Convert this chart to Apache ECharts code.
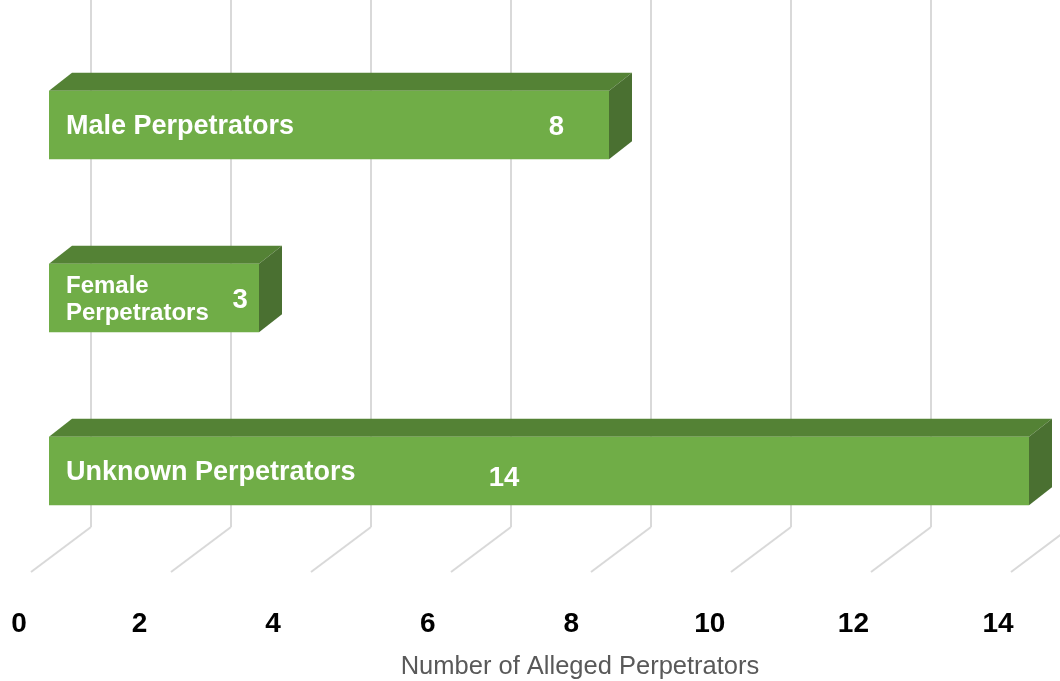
<!DOCTYPE html>
<html>
<head>
<meta charset="utf-8">
<style>
  html, body { margin: 0; padding: 0; background: #fff; }
  #chart { width: 1060px; height: 681px; }
</style>
<script src="https://cdn.jsdelivr.net/npm/echarts@6/dist/echarts.min.js"></script>
</head>
<body>
<div id="chart"></div>
<script>
const categories = ['Male Perpetrators', 'Female Perpetrators', 'Unknown Perpetrators'];
const counts = [8, 3, 14];
const tickValues = [0, 2, 4, 6, 8, 10, 12, 14];
const axisTitle = 'Number of Alleged Perpetrators';

// layout bits (where each value label sits, in axis units)
const labelSpot = [7.25, 2.73, 6.5];
const labelDy = [0, 0, 5];
// small nudges so the bottom numbers sit like the original
const tickShift = { 0: 0, 2: -19, 4: -25, 6: -10, 8: -6, 10: -7, 12: -3, 14: 2 };

const frontColor = '#70ad47';
const topColor = '#548235';
const sideColor = '#4a7031';
const gridColor = '#d9d9d9';
const fontFam = '"Liberation Sans", Arial, sans-serif';

// back wall runs past the right edge, so only show up to what fits (70px per unit)
const wallMax = 969 / 70;

const chart = echarts.init(document.getElementById('chart'));

const rich = {};
tickValues.forEach(v => {
  const d = tickShift[v];
  rich['t' + v] = {
    fontSize: 28,
    fontWeight: 'bold',
    fontFamily: fontFam,
    color: '#000',
    padding: [0, d < 0 ? -2 * d : 0, 0, d > 0 ? 2 * d : 0]
  };
});

const option = {
  backgroundColor: '#fff',
  animation: false,
  grid: [
    // back wall
    { left: 91, right: 0, top: 0, height: 527, outerBoundsMode: 'none' },
    // front plane of the bars
    { left: 49, width: 980, top: 38.5, height: 519, outerBoundsMode: 'none' },
    // tick labels row
    { left: 19, width: 977, top: 590, height: 10, outerBoundsMode: 'none' }
  ],
  xAxis: [
    {
      gridIndex: 0, type: 'value', min: 0, max: wallMax, interval: 2,
      axisLine: { show: false }, axisTick: { show: false }, axisLabel: { show: false },
      splitLine: { show: true, showMaxLine: false, lineStyle: { color: gridColor, width: 2 } },
      name: axisTitle,
      nameLocation: 'middle',
      nameGap: 127,
      nameTextStyle: {
        fontSize: 25.5, color: '#595959', fontFamily: fontFam,
        padding: [0, 0, 0, 9]
      }
    },
    {
      gridIndex: 1, type: 'value', min: 0, max: 14,
      show: false
    },
    {
      gridIndex: 2, type: 'value', min: 0, max: 14, interval: 2,
      axisLine: { show: false }, axisTick: { show: false },
      splitLine: { show: false },
      axisLabel: {
        margin: 10,
        formatter: v => '{t' + v + '|' + v + '}',
        rich: rich
      }
    }
  ],
  yAxis: [
    { gridIndex: 0, type: 'value', min: 0, max: 1, show: false },
    { gridIndex: 1, type: 'category', data: categories, inverse: true, show: false },
    { gridIndex: 2, type: 'value', min: 0, max: 1, show: false }
  ],
  series: [
    {
      // floor lines running forward from the back wall
      type: 'custom',
      xAxisIndex: 0,
      yAxisIndex: 0,
      data: tickValues.map(v => [v, 0]),
      silent: true,
      clip: false,
      z: 1,
      renderItem: function (params, api) {
        const p = api.coord([api.value(0), 0]);
        return {
          type: 'line',
          shape: { x1: p[0], y1: p[1], x2: p[0] - 60, y2: p[1] + 45 },
          style: { stroke: gridColor, lineWidth: 2 }
        };
      }
    },
    {
      type: 'custom',
      xAxisIndex: 1,
      yAxisIndex: 1,
      data: counts.map((c, i) => [c, i]),
      z: 5,
      renderItem: function (params, api) {
        const v = api.value(0);
        const i = api.value(1);
        const p0 = api.coord([0, i]);
        const p1 = api.coord([v, i]);
        const h = api.size([0, 1])[1] * 0.395;
        const x0 = p0[0], x1 = p1[0];
        const yT = p0[1] - h / 2, yB = p0[1] + h / 2;
        const dx = 23, dy = -18;
        const small = (x1 - x0) < 300;
        const fs = small ? 24 : 27;
        const spot = api.coord([labelSpot[i], i]);
        return {
          type: 'group',
          children: [
            {
              type: 'polygon',
              shape: { points: [[x0, yT], [x0 + dx, yT + dy], [x1 + dx, yT + dy], [x1, yT]] },
              style: { fill: topColor }
            },
            {
              type: 'polygon',
              shape: { points: [[x1, yT], [x1 + dx, yT + dy], [x1 + dx, yB + dy], [x1, yB]] },
              style: { fill: sideColor }
            },
            {
              type: 'rect',
              shape: { x: x0, y: yT, width: x1 - x0, height: yB - yT },
              style: { fill: frontColor }
            },
            {
              type: 'text',
              style: {
                text: categories[i],
                x: x0 + 17,
                y: p0[1] + 2,
                width: x1 - x0 - 28,
                overflow: 'break',
                align: 'left',
                verticalAlign: 'middle',
                lineHeight: 27,
                fill: '#fff',
                fontSize: fs,
                fontWeight: 'bold',
                fontFamily: fontFam
              }
            },
            {
              type: 'text',
              style: {
                text: String(v),
                x: spot[0],
                y: spot[1] + labelDy[i] + 2,
                align: 'center',
                verticalAlign: 'middle',
                fill: '#fff',
                fontSize: 27.5,
                fontWeight: 'bold',
                fontFamily: fontFam
              }
            }
          ]
        };
      }
    }
  ]
};

chart.setOption(option);
</script>
</body>
</html>
